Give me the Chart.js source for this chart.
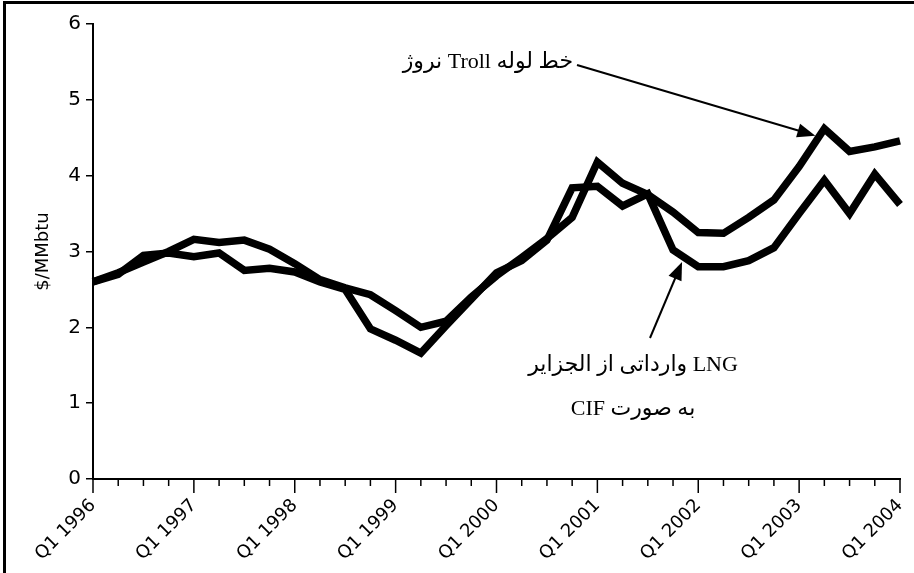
<!DOCTYPE html>
<html>
<head>
<meta charset="utf-8">
<script src="https://cdn.jsdelivr.net/npm/chart.js@4.4.0/dist/chart.umd.min.js"></script>
<style>
  html, body { margin: 0; padding: 0; background: #fff; }
  #wrap { width: 914px; height: 573px; }
</style>
</head>
<body>
<div id="wrap"><canvas id="mainChart" width="914" height="573"></canvas></div>
<script>
// quarterly categories, Q1 1996 .. Q1 2004
var quarters = [
  "Q1 1996", "Q2 1996", "Q3 1996", "Q4 1996",
  "Q1 1997", "Q2 1997", "Q3 1997", "Q4 1997",
  "Q1 1998", "Q2 1998", "Q3 1998", "Q4 1998",
  "Q1 1999", "Q2 1999", "Q3 1999", "Q4 1999",
  "Q1 2000", "Q2 2000", "Q3 2000", "Q4 2000",
  "Q1 2001", "Q2 2001", "Q3 2001", "Q4 2001",
  "Q1 2002", "Q2 2002", "Q3 2002", "Q4 2002",
  "Q1 2003", "Q2 2003", "Q3 2003", "Q4 2003",
  "Q1 2004"
];

// $/MMbtu
var trollPipeline = [
  2.60, 2.72, 2.86, 3.00, 3.16, 3.12, 3.15, 3.03,
  2.84, 2.63, 2.52, 2.43, 2.22, 2.00, 2.08, 2.40,
  2.68, 2.92, 3.17, 3.45, 4.18, 3.90, 3.75, 3.52,
  3.25, 3.24, 3.45, 3.68, 4.12, 4.62, 4.32, 4.38,
  4.46
];
var algeriaLng = [
  2.60, 2.70, 2.95, 2.98, 2.93, 2.98, 2.75, 2.78,
  2.73, 2.60, 2.50, 1.98, 1.83, 1.66, 2.02, 2.37,
  2.72, 2.88, 3.15, 3.84, 3.86, 3.60, 3.76, 3.02,
  2.80, 2.80, 2.88, 3.05, 3.50, 3.94, 3.50, 4.02,
  3.62
];

var yMin = 0, yMax = 6, yStep = 1;
var yTitle = "$/MMbtu";

var trollLabel = "خط لوله Troll نروژ";
var lngLabel1 = "LNG وارداتی از الجزایر";
var lngLabel2 = "به صورت CIF";

// draw a line with a filled arrow head at (x2, y2)
function drawArrow(ctx, x1, y1, x2, y2){
  var ang = Math.atan2(y2 - y1, x2 - x1);
  var hl = 18, hw = 7;
  ctx.beginPath();
  ctx.moveTo(x1, y1);
  ctx.lineTo(x2 - Math.cos(ang) * hl * 0.8, y2 - Math.sin(ang) * hl * 0.8);
  ctx.stroke();
  ctx.beginPath();
  ctx.moveTo(x2, y2);
  ctx.lineTo(x2 - Math.cos(ang) * hl - Math.sin(ang) * hw, y2 - Math.sin(ang) * hl + Math.cos(ang) * hw);
  ctx.lineTo(x2 - Math.cos(ang) * hl + Math.sin(ang) * hw, y2 - Math.sin(ang) * hl - Math.cos(ang) * hw);
  ctx.closePath();
  ctx.fill();
}

var extras = {
  id: "extras",
  beforeDraw: function(chart){
    var ctx = chart.ctx;
    ctx.save();
    ctx.fillStyle = "#fff";
    ctx.fillRect(0, 0, chart.width, chart.height);
    ctx.restore();
  },
  afterDraw: function(chart){
    var ctx = chart.ctx;
    var xs = chart.scales.x, ys = chart.scales.y;
    ctx.save();

    // quarter tick marks, longer ones at Q1
    ctx.strokeStyle = "#000";
    ctx.lineWidth = 1.5;
    for (var i = 0; i < quarters.length; i++){
      var px = xs.getPixelForValue(i);
      var len = (i % 4 === 0) ? 14 : 7;
      ctx.beginPath();
      ctx.moveTo(px, ys.bottom);
      ctx.lineTo(px, ys.bottom + len);
      ctx.stroke();
    }

    // frame of the figure (left and top only)
    ctx.lineWidth = 3;
    ctx.beginPath();
    ctx.moveTo(4.5, chart.height);
    ctx.lineTo(4.5, 2.5);
    ctx.lineTo(chart.width, 2.5);
    ctx.stroke();

    // annotations
    ctx.fillStyle = "#000";
    ctx.font = '22px "Liberation Serif", "DejaVu Sans", serif';
    ctx.direction = "rtl";
    ctx.textBaseline = "alphabetic";

    ctx.textAlign = "right";
    ctx.fillText(trollLabel, 573, 68);

    ctx.textAlign = "center";
    ctx.fillText(lngLabel1, 633, 371);
    ctx.fillText(lngLabel2, 633, 415);

    ctx.lineWidth = 2;
    var tIdx = 29, lIdx = 23;
    drawArrow(ctx, 577, 65,
      xs.getPixelForValue(tIdx) - 9, ys.getPixelForValue(trollPipeline[tIdx]) + 7);
    drawArrow(ctx, 650, 338,
      xs.getPixelForValue(lIdx) + 9, ys.getPixelForValue(algeriaLng[lIdx]) + 12);

    ctx.restore();
  }
};

function lineSet(label, values){
  return {
    label: label,
    data: values,
    borderColor: "#000",
    backgroundColor: "#000",
    borderWidth: 7.5,
    borderJoinStyle: "miter",
    borderCapStyle: "butt",
    pointRadius: 0,
    tension: 0,
    fill: false
  };
}

var data = {
  labels: quarters,
  datasets: [
    lineSet(trollLabel, trollPipeline),
    lineSet(lngLabel1 + " " + lngLabel2, algeriaLng)
  ]
};

var options = {
  responsive: false,
  animation: false,
  layout: {
    padding: { top: 24, right: 14, left: 0, bottom: 0 }
  },
  plugins: {
    legend: { display: false },
    tooltip: { enabled: false }
  },
  scales: {
    x: {
      type: "category",
      offset: false,
      afterFit: function(scale){
        scale.height = 94;
        scale.paddingLeft = 0;
        scale.paddingRight = 0;
      },
      grid: { display: true, drawOnChartArea: false, drawTicks: false },
      border: { display: true, color: "#000", width: 2 },
      ticks: {
        autoSkip: false,
        maxRotation: 45,
        minRotation: 45,
        padding: 16,
        color: "#000",
        font: { family: "DejaVu Sans", size: 18 },
        callback: function(v, i){ return (i % 4 === 0) ? quarters[i] : ""; }
      }
    },
    y: {
      min: yMin,
      max: yMax,
      afterFit: function(scale){ scale.width = 93; },
      grid: { drawOnChartArea: false, tickLength: 7, color: "#000", lineWidth: 1.5 },
      border: { display: true, color: "#000", width: 2 },
      ticks: {
        stepSize: yStep,
        padding: 5,
        color: "#000",
        font: { family: "DejaVu Sans", size: 20 }
      },
      title: {
        display: true,
        text: yTitle,
        color: "#000",
        font: { family: "DejaVu Sans", size: 18 },
        padding: { top: 33, bottom: 0 }
      }
    }
  }
};

var config = {
  type: "line",
  data: data,
  options: options,
  plugins: [extras]
};

var ctx = document.getElementById("mainChart");
new Chart(ctx, config);
</script>
</body>
</html>
